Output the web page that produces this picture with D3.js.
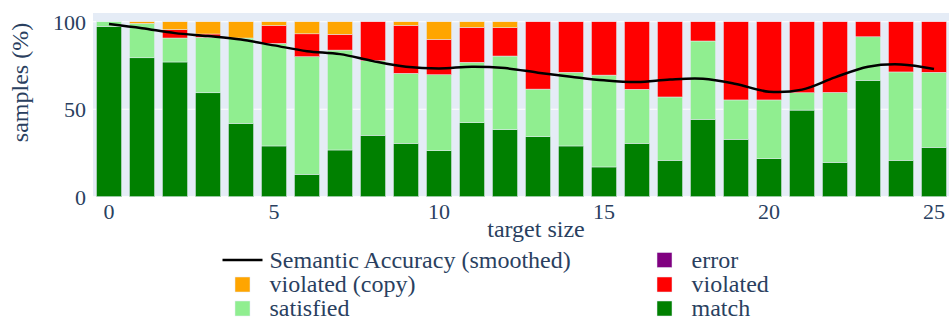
<!DOCTYPE html>
<html>
<head>
<meta charset="utf-8">
<script src="https://cdn.jsdelivr.net/npm/d3@7"></script>
<style>
  html, body { margin: 0; padding: 0; background: #ffffff; }
  svg { display: block; }
  svg text { font-family: "Liberation Serif", "Times New Roman", Times, "DejaVu Serif", serif; }
</style>
</head>
<body>
<svg id="chart" width="949" height="320"></svg>
<script>
const targetSizes = d3.range(0, 26);
const match =     [97.3, 79.4, 77.0, 59.4, 41.9, 29.0, 12.8, 26.7, 35.1, 30.5, 26.3, 42.3, 38.3, 34.3, 29.0, 17.0, 30.5, 20.8, 44.2, 32.8, 21.7, 49.5, 19.6, 66.5, 20.8, 28.2];
const satisfied = [2.7, 19.6, 13.7, 31.7, 48.8, 58.6, 67.2, 57.1, 42.6, 40.0, 43.4, 34.5, 42.1, 27.2, 42.1, 52.5, 30.9, 36.2, 44.8, 22.5, 33.6, 9.9, 40.0, 24.9, 50.5, 42.9];
const violated =  [0, 0, 4.8, 1.9, 0, 10.2, 13.1, 9.0, 22.3, 27.4, 20.2, 20.0, 16.2, 38.5, 28.9, 30.5, 38.6, 43.0, 11.0, 44.7, 44.7, 40.6, 40.4, 8.6, 28.7, 28.9];
const violatedCopy = [0, 1.0, 4.5, 7.0, 9.3, 2.2, 6.9, 7.2, 0, 2.1, 10.1, 3.2, 3.4, 0, 0, 0, 0, 0, 0, 0, 0, 0, 0, 0, 0, 0];
const errorVals = [0, 0, 0, 0, 0, 0, 0, 0, 0, 0, 0, 0, 0, 0, 0, 0, 0, 0, 0, 0, 0, 0, 0, 0, 0, 0];
const smoothedAccuracy = [98.7, 96.3, 93.5, 91.8, 89.8, 86.5, 83.2, 81.5, 77.5, 74.3, 73.3, 74.3, 73.5, 70.9, 68.6, 66.5, 65.5, 67.0, 67.4, 64.4, 60.0, 61.2, 68.2, 74.3, 75.6, 73.0];
const yTicks = [0, 50, 100];
const xTicks = [0, 5, 10, 15, 20, 25];

const seriesNames = ["match", "satisfied", "violated", "violated (copy)", "error"];
const seriesColors = {"match": "#008000", "satisfied": "#90ee90", "violated": "#ff0000", "violated (copy)": "#ffa500", "error": "#800080"};
const seriesData = {"match": match, "satisfied": satisfied, "violated": violated, "violated (copy)": violatedCopy, "error": errorVals};

const svg = d3.select("#chart");
const font = "Liberation Serif, Times New Roman, Times, DejaVu Serif, serif";
const textColor = "#2a3f5f";

const plotLeft = 93, plotRight = 950, plotTop = 13, plotBottom = 196.7;

const x = d3.scaleBand().domain(targetSizes).range([92.5, 950.5]).paddingInner(0.24).paddingOuter(0.12);
const y = d3.scaleLinear().domain([0, 105]).range([plotBottom, plotTop]);

// background
svg.append("rect").attr("x", plotLeft).attr("y", plotTop)
  .attr("width", plotRight - plotLeft).attr("height", plotBottom - plotTop).attr("fill", "#e5ecf6");

// gridlines
svg.append("g").selectAll("line").data(yTicks).join("line")
  .attr("x1", plotLeft).attr("x2", plotRight)
  .attr("y1", d => y(d)).attr("y2", d => y(d))
  .attr("stroke", "#ffffff").attr("stroke-width", 1);

// stacked data
const table = targetSizes.map((t, i) => {
  const row = {size: t};
  seriesNames.forEach(n => row[n] = seriesData[n][i]);
  return row;
});
const stack = d3.stack().keys(seriesNames)(table);

svg.append("g").selectAll("g").data(stack).join("g")
  .attr("fill", d => seriesColors[d.key])
  .selectAll("rect").data(d => d.filter(s => s[1] - s[0] > 0)).join("rect")
  .attr("x", d => x(d.data.size))
  .attr("width", x.bandwidth())
  .attr("y", d => y(d[1]))
  .attr("height", d => y(d[0]) - y(d[1]))
  .attr("stroke", "#e5ecf6").attr("stroke-width", 0.5);

// smoothed line
const line = d3.line()
  .x((d, i) => x(targetSizes[i]) + x.bandwidth() / 2)
  .y(d => y(d))
  .curve(d3.curveCatmullRom.alpha(0.5));
svg.append("path").datum(smoothedAccuracy)
  .attr("d", line).attr("fill", "none").attr("stroke", "#000000").attr("stroke-width", 2.5);

// y axis tick labels
const yAxis = d3.axisLeft(y).tickValues(yTicks).tickSize(0).tickPadding(0);
const gy = svg.append("g").attr("transform", `translate(86,0)`).call(yAxis);
gy.attr("font-family", null);
gy.select(".domain").remove();
gy.selectAll("text").style("font-family", font).attr("font-size", 22).attr("fill", textColor)
  .attr("dy", "0.35em");

// x axis tick labels
const xAxis = d3.axisBottom(x).tickValues(xTicks).tickSize(0).tickPadding(0);
const gx = svg.append("g").attr("transform", `translate(0,${plotBottom})`).call(xAxis);
gx.attr("font-family", null);
gx.select(".domain").remove();
gx.selectAll("text").style("font-family", font).attr("font-size", 22).attr("fill", textColor)
  .attr("dy", null).attr("y", 22);

// axis titles
svg.append("text").attr("x", 536).attr("y", 237).attr("text-anchor", "middle")
  .style("font-family", font).attr("font-size", 24).attr("fill", textColor).text("target size");
svg.append("text").attr("transform", "translate(28,82.5) rotate(-90)").attr("text-anchor", "middle")
  .style("font-family", font).attr("font-size", 24).attr("fill", textColor).text("samples (%)");

// legend
const legendItems = [
  {name: "Semantic Accuracy (smoothed)", type: "line", col: 0, row: 0},
  {name: "error", type: "box", col: 1, row: 0},
  {name: "violated (copy)", type: "box", col: 0, row: 1},
  {name: "violated", type: "box", col: 1, row: 1},
  {name: "satisfied", type: "box", col: 0, row: 2},
  {name: "match", type: "box", col: 1, row: 2}
];
const colX = [242.5, 664.5];
const rowY = [260, 284.5, 308.5];
const lg = svg.append("g").selectAll("g").data(legendItems).join("g")
  .attr("transform", d => `translate(${colX[d.col]},${rowY[d.row]})`);
lg.filter(d => d.type === "line").append("line")
  .attr("x1", -20).attr("x2", 20).attr("y1", 0).attr("y2", 0)
  .attr("stroke", "#000").attr("stroke-width", 2.5);
lg.filter(d => d.type === "box").append("rect")
  .attr("x", -7.5).attr("y", -7.5).attr("width", 15).attr("height", 15)
  .attr("fill", d => seriesColors[d.name]).attr("stroke", "#e5ecf6").attr("stroke-width", 0.5);
lg.append("text").attr("x", 27).attr("y", 0).attr("dy", "0.33em")
  .style("font-family", font).attr("font-size", 24).attr("fill", textColor)
  .text(d => d.name);
</script>
</body>
</html>
